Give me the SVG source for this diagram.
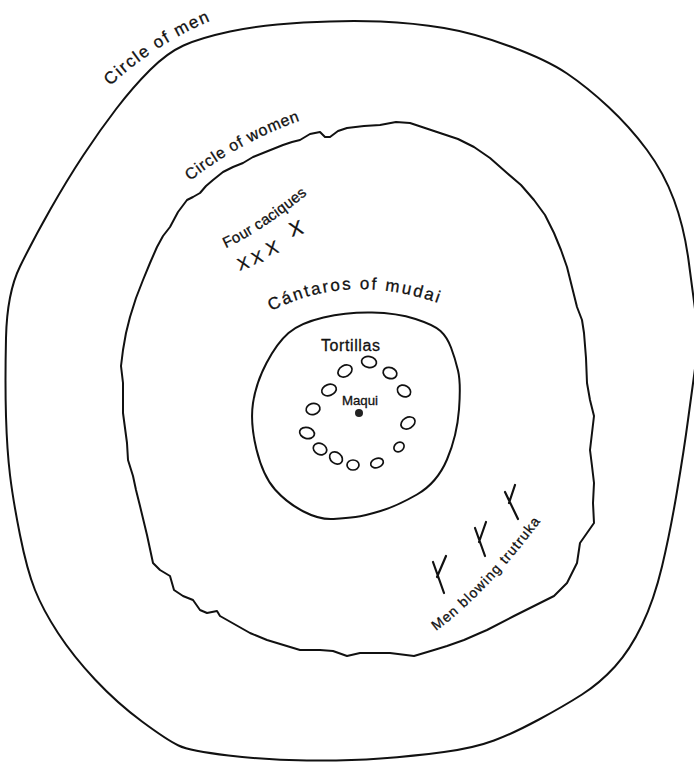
<svg xmlns="http://www.w3.org/2000/svg" width="694" height="765" viewBox="0 0 694 765">
<style>
.ring{fill:none;stroke:#111;stroke-width:2;stroke-linejoin:round;stroke-linecap:round}
.tort{fill:none;stroke:#111;stroke-width:1.7}
.lbl{font-family:"Liberation Sans","DejaVu Sans",sans-serif;fill:#111;stroke:#111;stroke-width:0.3}
.sym{fill:none;stroke:#111;stroke-width:2.2;stroke-linecap:round}
</style>
<defs>
<path id="pMen" d="M 110 86 Q 160 40 222 16"/>
<path id="pWomen" d="M 190 181 Q 242 140 308 118"/>
<path id="pCac" d="M 226 248 Q 265 230 316 187"/>
<path id="pCant" d="M 271 311 Q 352 270 446 306"/>
<path id="pTru" d="M 436 631 Q 492 590 554 503"/>
</defs>
<rect width="694" height="765" fill="#fff"/>
<g id="circle-of-men">
<path class="ring" d="M 303.5 22.5 Q 347 20 380.5 21.5 Q 414 23 444 28 Q 474 33 510.5 46.5 Q 547 60 567 73.5 Q 587 87 608.5 107 Q 630 127 647 150 Q 664 173 674 200 Q 684 227 688.5 260 Q 693 293 696 316.5 Q 699 340 695.5 365 Q 692 390 688 420 Q 684 450 677 491.5 Q 670 533 662 566.5 Q 654 600 642 625 Q 630 650 615 666.5 Q 600 683 582 694.5 Q 564 706 539 719.5 Q 514 733 494 740.5 Q 474 748 444 752 Q 414 756 380.5 758.5 Q 347 761 307 760.5 Q 267 760 228.5 755.5 Q 190 751 178.5 745.5 Q 167 740 142 721.5 Q 117 703 95 679.5 Q 73 656 58 633 Q 43 610 35 590 Q 27 570 20 535 Q 13 500 10 475 Q 7 450 6 416.5 Q 5 383 6 338 Q 7 293 20 266.5 Q 33 240 50 210 Q 67 180 83.5 155 Q 100 130 116.5 108.5 Q 133 87 150 70 Q 167 53 183.5 45.5 Q 200 38 230 31.5 Q 260 25 303.5 22.5 Z"/>
<text class="lbl" font-size="17"><textPath href="#pMen" textLength="120" lengthAdjust="spacing">Circle of men</textPath></text>
</g>
<g id="circle-of-women">
<path class="ring" d="M 347 128 L 364 126 L 380 125 L 396 122 L 410 123 L 425 128 L 440 133 L 458 139 L 474 147 L 490 158 L 507 173 L 521 185 L 534 200 L 545 215 L 554 233 L 561 250 L 567 267 L 572 287 L 577 307 L 582 320 L 584 333 L 586 358 L 587 383 L 590 400 L 594 416 L 592 433 L 590 450 L 592 466 L 594 483 L 593 503 L 594 523 L 587 533 L 580 543 L 577 563 L 567 583 L 554 596 L 534 606 L 514 616 L 487 630 L 480 633 L 464 640 L 447 646 L 434 650 L 414 656 L 390 653 L 374 653 L 360 653 L 347 656 L 333 651 L 320 650 L 300 650 L 267 640 L 250 633 L 220 616 L 217 611 L 207 613 L 200 610 L 193 600 L 183 596 L 174 590 L 170 576 L 160 570 L 153 563 L 147 535 L 140 506 L 136 490 L 133 476 L 128 460 L 127 443 L 123 413 L 123 383 L 121 366 L 123 350 L 126 333 L 130 317 L 136 298 L 143 280 L 150 263 L 157 247 L 163 236 L 170 227 L 178 212 L 187 200 L 193 197 L 200 193 L 206 186 L 213 180 L 223 172 L 233 167 L 243 163 L 253 157 L 268 151 L 283 145 L 292 142 L 300 140 L 310 134 L 320 132 L 325 137 L 330 137 L 338 131 Z"/>
<text class="lbl" font-size="16"><textPath href="#pWomen" textLength="126" lengthAdjust="spacing">Circle of women</textPath></text>
</g>
<g id="four-caciques">
<text class="lbl" font-size="15"><textPath href="#pCac" textLength="98" lengthAdjust="spacing">Four caciques</textPath></text>
<text class="lbl" font-size="17" text-anchor="middle" transform="translate(245,269) rotate(-18)">X</text>
<text class="lbl" font-size="17" text-anchor="middle" transform="translate(259,263) rotate(-18)">X</text>
<text class="lbl" font-size="18" text-anchor="middle" transform="translate(274,254) rotate(-18)">X</text>
<text class="lbl" font-size="20" text-anchor="middle" transform="translate(298,235) rotate(-18)">X</text>
</g>
<g id="cantaros-of-mudai">
<path class="ring" d="M 323.5 317.5 Q 347 312 372 312.5 Q 397 313 415.5 319 Q 434 325 440.5 331 Q 447 337 451 347.5 Q 455 358 458 370.5 Q 461 383 459 409.5 Q 457 436 447 459.5 Q 437 483 417 494.5 Q 397 506 380.5 511 Q 364 516 355.5 517 Q 347 518 333.5 519 Q 320 520 303.5 511.5 Q 287 503 275 489.5 Q 263 476 256.5 449.5 Q 250 423 253 403 Q 256 383 266.5 363 Q 277 343 288.5 333 Q 300 323 323.5 317.5 Z"/>
<text class="lbl" font-size="17"><textPath href="#pCant" textLength="172" lengthAdjust="spacing">Cántaros of mudai</textPath></text>
</g>
<g id="tortillas">
<text class="lbl" font-size="16" x="321" y="351" textLength="59" lengthAdjust="spacing">Tortillas</text>
<ellipse class="tort" cx="345" cy="371" rx="7.5" ry="5.5" transform="rotate(-30 345 371)"/>
<ellipse class="tort" cx="369" cy="362" rx="7.5" ry="5.5" transform="rotate(10 369 362)"/>
<ellipse class="tort" cx="390" cy="373" rx="7" ry="5.5" transform="rotate(20 390 373)"/>
<ellipse class="tort" cx="404" cy="391" rx="7" ry="5.5" transform="rotate(30 404 391)"/>
<ellipse class="tort" cx="329" cy="390" rx="7.5" ry="5.5" transform="rotate(-20 329 390)"/>
<ellipse class="tort" cx="313" cy="409" rx="7" ry="5.5" transform="rotate(-15 313 409)"/>
<ellipse class="tort" cx="408" cy="423" rx="7.5" ry="5.5" transform="rotate(-30 408 423)"/>
<ellipse class="tort" cx="307" cy="433" rx="7.5" ry="5.5" transform="rotate(15 307 433)"/>
<ellipse class="tort" cx="399" cy="447" rx="5.5" ry="4.5" transform="rotate(-40 399 447)"/>
<ellipse class="tort" cx="320" cy="449" rx="7" ry="5.5" transform="rotate(25 320 449)"/>
<ellipse class="tort" cx="336" cy="458" rx="7" ry="5.5" transform="rotate(40 336 458)"/>
<ellipse class="tort" cx="353" cy="465" rx="6" ry="5" transform="rotate(0 353 465)"/>
<ellipse class="tort" cx="377" cy="463" rx="6.5" ry="4.5" transform="rotate(-20 377 463)"/>
</g>
<g id="maqui">
<text class="lbl" font-size="13" x="342" y="405" textLength="36" lengthAdjust="spacingAndGlyphs">Maqui</text>
<circle cx="359" cy="413" r="4" fill="#222"/>
</g>
<g id="men-blowing-trutruka">
<path class="sym" d="M 433 562 L 444 593 M 437 577 L 446 556"/>
<path class="sym" d="M 475 528 L 485 556 M 479 542 L 486 522"/>
<path class="sym" d="M 505 492 L 518 519 M 509 503 L 515 485"/>
<text class="lbl" font-size="14"><textPath href="#pTru" textLength="152" lengthAdjust="spacing">Men blowing trutruka</textPath></text>
</g>
</svg>
